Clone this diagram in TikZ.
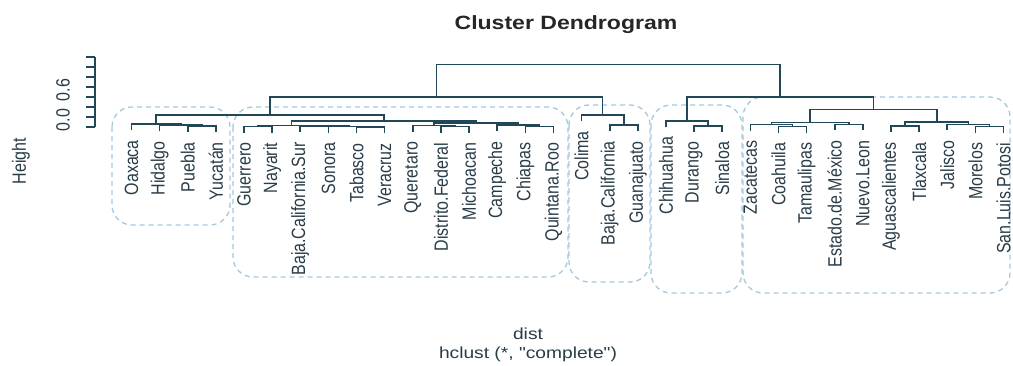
\documentclass[tikz,border=0pt]{standalone}
\usepackage{fontspec}
\setmainfont{Liberation Sans}
\newfontfamily\widefont[FakeStretch=1.2]{Liberation Sans}
\newfontfamily\tallfont[FakeStretch=0.833]{Liberation Sans}
\usepackage{tikz}
\usetikzlibrary{calc}
\definecolor{treeline}{RGB}{34,72,88}
\definecolor{labcol}{RGB}{40,60,72}
\definecolor{grpblue}{RGB}{165,200,222}

\begin{document}
\begin{tikzpicture}[x=1pt,y=-1pt,
  tree/.style={draw=treeline,line width=1.6pt},
  leaf/.style={rotate=90,anchor=east,inner sep=0pt,text=labcol,
    font=\tallfont\fontsize{19.2}{20}\selectfont},
  grp/.style={draw=grpblue,line width=1.3pt,dash pattern=on 5pt off 4pt,
    rounded corners=20pt},
  caption/.style={anchor=base,inner sep=0pt,text=labcol,
    font=\widefont\fontsize{16}{18}\selectfont}]
  \useasboundingbox (0,0) rectangle (1013,365);

  \node[anchor=base,inner sep=0pt,text=black!85,
    font=\widefont\bfseries\fontsize{19.2}{22}\selectfont] (title) at (566,29) {Cluster Dendrogram};

  % groups
  \draw[grp] (112,107) rectangle (230,225);
  \draw[grp] (233,107) rectangle (568,277);
  \draw[grp] (569,105) rectangle (650,282);
  \draw[grp] (651,105) rectangle (742,293);
  \draw[grp] (743,97) rectangle (1010,293);

  % height axis
  \draw[tree,line width=1.3pt] (95,57) -- (95,127);
  \foreach \t in {57,67,...,127}
    \draw[tree,line width=1.3pt] (95,\t) -- (86,\t);
  \node[leaf,anchor=center] (y06) at (63,90) {0.6};
  \node[leaf,anchor=center] (y00) at (63,120) {0.0};
  \node[leaf,anchor=center] (ylab) at (21,161) {Height};

  % leaves
  \foreach \n/\t/\b [count=\i from 0] in {
      Oaxaca/Oaxaca/130, Hidalgo/Hidalgo/131, Puebla/Puebla/132, Yucatan/Yucatán/132,
      Guerrero/Guerrero/132.5, Nayarit/Nayarit/132.5, BCS/Baja.California.Sur/132,
      Sonora/Sonora/132.5, Tabasco/Tabasco/133, Veracruz/Veracruz/133,
      Queretaro/Queretaro/131.5, DF/Distrito.Federal/132.5, Michoacan/Michoacan/132.5,
      Campeche/Campeche/131, Chiapas/Chiapas/132.5, QRoo/Quintana.Roo/132.5,
      Colima/Colima/121, BC/Baja.California/131, Guanajuato/Guanajuato/131,
      Chihuahua/Chihuahua/126.7, Durango/Durango/131.7, Sinaloa/Sinaloa/131.7,
      Zacatecas/Zacatecas/130.5, Coahuila/Coahuila/132.5, Tamaulipas/Tamaulipas/132.5,
      EdoMex/Estado.de.México/130.3, NLeon/Nuevo.Leon/130.3, Ags/Aguascalientes/132,
      Tlaxcala/Tlaxcala/132, Jalisco/Jalisco/130.3, Morelos/Morelos/132.5,
      SLP/San.Luis.Potosi/132.5} {
    \coordinate (\n) at (131.5+28.13*\i,\b);
    \node[leaf] (l\n) at ([yshift=-10pt]\n) {\t};
  }

  % merges: name/left/right/height
  \foreach \m/\a/\b/\h in {
      m1a/Puebla/Yucatan/126, m1b/Hidalgo/m1a/125, g1/Oaxaca/m1b/124,
      m2a/Guerrero/Nayarit/126.5, m2b/Tabasco/Veracruz/127, m2c/Sonora/m2b/126.5,
      m2d/BCS/m2c/126, g2a/m2a/m2d/125.5,
      m2e/DF/Michoacan/126.5, m2f/Queretaro/m2e/125.5, m2g/Chiapas/QRoo/126.5,
      m2h/Campeche/m2g/125, g2b/m2f/m2h/123, g2/g2a/g2b/121, g12/g1/g2/115,
      m3a/BC/Guanajuato/125, g3/Colima/m3a/115, gL/g12/g3/96.7,
      m4a/Durango/Sinaloa/125.7, g4/Chihuahua/m4a/120.7,
      m5a/Coahuila/Tamaulipas/126.5, m5b/Zacatecas/m5a/124.5, m5c/EdoMex/NLeon/124.3,
      g5a/m5b/m5c/122.3, m5d/Ags/Tlaxcala/126, m5e/Morelos/SLP/126.5,
      m5f/Jalisco/m5e/124.3, g5b/m5d/m5f/122, g5/g5a/g5b/109.3,
      gR/g4/g5/96.7, gTop/gL/gR/64.3} {
    \path let \p1=(\a), \p2=(\b) in ({(\x1+\x2)/2},{-\h*1pt}) coordinate (\m);
    \draw[tree] (\a) |- (\m) -| (\b);
  }

  \node[caption] (dist) at (528,339) {dist};
  \node[caption] (method) at (528,358) {hclust (*, "complete")};
\end{tikzpicture}
\end{document}
